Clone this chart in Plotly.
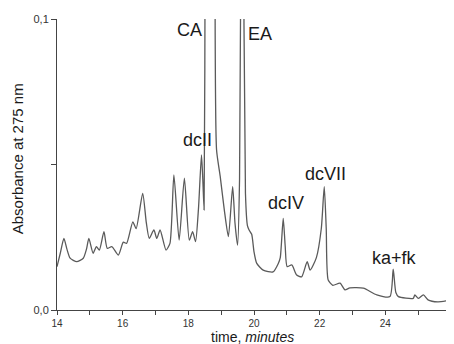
import plotly.graph_objects as go

time_min = [14.00, 14.10, 14.21, 14.30, 14.40, 14.60, 14.80, 14.90, 14.97, 15.10, 15.20, 15.29,
            15.43, 15.53, 15.67, 15.87, 16.02, 16.12, 16.31, 16.41, 16.61, 16.72, 16.81, 16.95,
            17.04, 17.14, 17.32, 17.44, 17.56, 17.72, 17.88, 18.03, 18.13, 18.22, 18.31, 18.40,
            18.44, 18.48, 18.51, 18.66, 18.81, 18.86, 18.97, 19.10, 19.22, 19.35, 19.42, 19.50,
            19.56, 19.60, 19.64, 19.68, 19.74, 19.80, 19.85, 19.93, 20.00, 20.08, 20.28, 20.58,
            20.74, 20.80, 20.89, 20.95, 21.01, 21.15, 21.30, 21.45, 21.62, 21.71, 21.90, 22.05,
            22.14, 22.20, 22.26, 22.40, 22.62, 22.77, 22.92, 23.33, 23.74, 24.14, 24.24, 24.32,
            24.40, 24.85, 24.90, 25.00, 25.16, 25.30, 25.60, 26.00]
absorbance = [0.0149, 0.0195, 0.0246, 0.0210, 0.0178, 0.0166, 0.0178, 0.0210, 0.0246, 0.0195, 0.0218, 0.0206,
              0.0269, 0.0212, 0.0218, 0.0189, 0.0233, 0.0229, 0.0303, 0.0280, 0.0401, 0.0300, 0.0246, 0.0275,
              0.0246, 0.0275, 0.0206, 0.0229, 0.0464, 0.0240, 0.0453, 0.0240, 0.0269, 0.0235, 0.0350, 0.0533,
              0.0450, 0.0344, 0.1200, 0.9000, 0.1200, 0.0550, 0.0460, 0.0340, 0.0252, 0.0424, 0.0300, 0.0223,
              0.0450, 0.1400, 1.0000, 0.1400, 0.0400, 0.0290, 0.0275, 0.0260, 0.0200, 0.0161, 0.0137, 0.0131,
              0.0160, 0.0180, 0.0315, 0.0220, 0.0149, 0.0155, 0.0120, 0.0114, 0.0166, 0.0137, 0.0180, 0.0280,
              0.0424, 0.0280, 0.0103, 0.0085, 0.0092, 0.0069, 0.0076, 0.0075, 0.0052, 0.0046, 0.0140, 0.0060,
              0.0046, 0.0040, 0.0052, 0.0040, 0.0052, 0.0035, 0.0028, 0.0034]

peak_labels = ["CA", "EA", "dcII", "dcIV", "dcVII", "ka+fk"]
label_x = [18.05, 20.17, 18.29, 20.96, 22.19, 24.27]
label_y = [0.0962, 0.0948, 0.0584, 0.0366, 0.0467, 0.0180]

x_ticks = list(range(14, 27))
x_ticktext = [str(v) if v % 2 == 0 else "" for v in x_ticks]
y_ticks = [0.0, 0.05, 0.1]
y_ticktext = ["0,0", "", "0,1"]

FONT = "Liberation Sans, Arial, sans-serif"

fig = go.Figure()
fig.add_trace(go.Scatter(x=time_min, y=absorbance, mode="lines",
                         line=dict(color="#5a5a5a", width=1.3, shape="spline", smoothing=0.6),
                         showlegend=False))

for t, lx, ly in zip(peak_labels, label_x, label_y):
    fig.add_annotation(x=lx, y=ly, text=t, showarrow=False, xanchor="center", yanchor="middle",
                       font=dict(family=FONT, size=18, color="#1a1a1a"))

# page has an 8px body margin: figure is sized/margined to compensate
fig.add_annotation(xref="paper", yref="paper", x=0.495, y=-0.0928, text="time, <i>minutes</i>",
                   xanchor="center", yanchor="middle",
                   showarrow=False, font=dict(family=FONT, size=14, color="#1a1a1a"))
fig.add_annotation(xref="paper", yref="paper", x=-0.100, y=0.52, text="Absorbance at 275 nm",
                   xanchor="center", yanchor="middle",
                   textangle=-90, showarrow=False, font=dict(family=FONT, size=15, color="#1a1a1a"))

fig.update_layout(
    width=446, height=336,
    margin=dict(l=49, r=3, t=11, b=34),
    paper_bgcolor="white", plot_bgcolor="white",
    font=dict(family=FONT, color="#333"),
    xaxis=dict(range=[14, 26], tickmode="array", tickvals=x_ticks, ticktext=x_ticktext,
               ticks="outside", ticklen=4, tickwidth=1, tickcolor="#444",
               showline=True, linecolor="#444", linewidth=1, showgrid=False, zeroline=False,
               tickfont=dict(size=10, color="#333")),
    yaxis=dict(range=[0, 0.1], tickmode="array", tickvals=y_ticks, ticktext=y_ticktext,
               ticks="outside", ticklen=5, tickwidth=1, tickcolor="#444",
               showline=True, linecolor="#444", linewidth=1, showgrid=False, zeroline=False,
               tickfont=dict(size=11, color="#333")),
)

fig.write_html("out.html")
